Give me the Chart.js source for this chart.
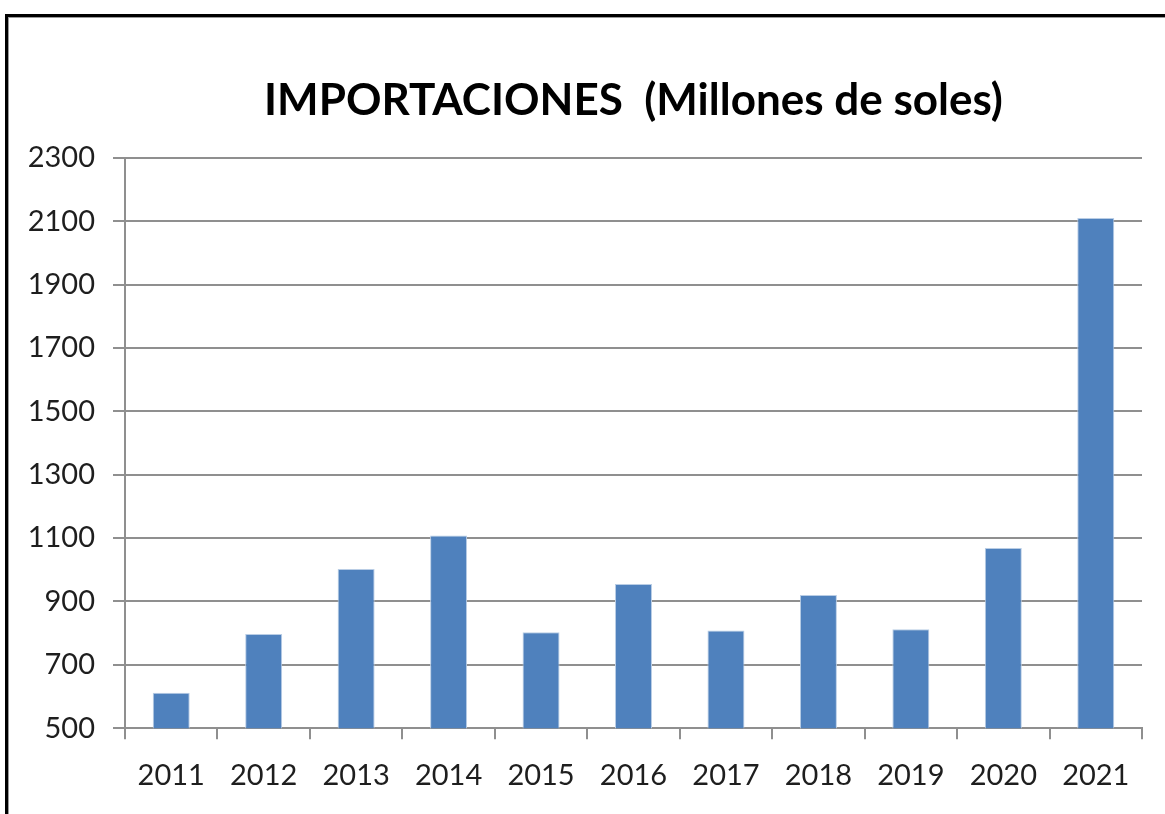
<!DOCTYPE html>
<html>
<head>
<meta charset="utf-8">
<script src="https://cdn.jsdelivr.net/npm/chart.js@4"></script>
<style>
  html, body { margin: 0; padding: 0; background: #fff; overflow: hidden; }
  #wrap { position: relative; width: 1165px; height: 814px; }
  #frame { position: absolute; left: 5px; top: 14px; width: 1300px; height: 900px;
           border-left: 3px solid #000; border-top: 3px solid #000; }
  #frame div { position: absolute; left: 0; top: 0; right: 0; bottom: 0;
               border-left: 1px solid #9a9a9a; border-top: 1px solid #9a9a9a; }
  canvas { position: absolute; left: 0; top: 0; }
</style>
</head>
<body>
<div id="wrap">
  <div id="frame"><div></div></div>
  <canvas id="myChart" width="1165" height="814"></canvas>
</div>
<script>
// Chart data
const years = ['2011', '2012', '2013', '2014', '2015', '2016', '2017', '2018', '2019', '2020', '2021'];
const imports = [612, 797, 1002, 1108, 803, 955, 808, 920, 812, 1069, 2110];
const yMin = 500;
const yMax = 2300;
const yStep = 200;

const gridGray = '#8f8f8f';
const textColor = '#1e1e1e';

const ctx = document.getElementById('myChart').getContext('2d');
const myChart = new Chart(ctx, {
    type: 'bar',
    data: {
        labels: years,
        datasets: [{
            label: 'Importaciones',
            data: imports,
            backgroundColor: '#4F81BD',
            borderColor: '#b9cde5',
            borderWidth: 1,
            categoryPercentage: 1,
            barPercentage: 0.4
        }]
    },
    options: {
        responsive: false,
        animation: false,
        layout: {
            padding: { left: 0, right: 23, top: 74, bottom: 2 }
        },
        plugins: {
            legend: { display: false },
            tooltip: { enabled: false },
            title: {
                display: true,
                fullSize: false,
                text: 'IMPORTACIONES  (Millones de soles)',
                color: '#000',
                font: { family: 'Lato', size: 44, weight: 'bold' },
                padding: { top: 0, bottom: 31 }
            }
        },
        scales: {
            x: {
                grid: {
                    offset: true,
                    drawOnChartArea: false,
                    drawTicks: true,
                    tickLength: 11,
                    color: gridGray,
                    lineWidth: 2
                },
                border: { display: true, color: gridGray, width: 2 },
                ticks: {
                    color: textColor,
                    font: { family: 'Lato', size: 29 },
                    padding: 19,
                    maxRotation: 0
                }
            },
            y: {
                min: yMin,
                max: yMax,
                afterFit: (scale) => { scale.width = 125; },
                grid: {
                    color: gridGray,
                    lineWidth: 2,
                    tickLength: 12
                },
                border: { display: true, color: gridGray, width: 2 },
                ticks: {
                    stepSize: yStep,
                    color: textColor,
                    font: { family: 'Lato', size: 29 },
                    padding: 18,
                    callback: (value) => String(value)
                }
            }
        }
    }
});
</script>
</body>
</html>
